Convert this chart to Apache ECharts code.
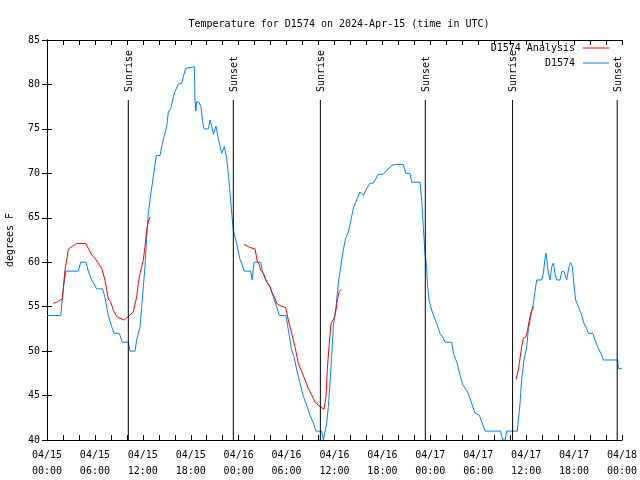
<!DOCTYPE html>
<html>
<head>
<meta charset="utf-8">
<script src="https://cdn.jsdelivr.net/npm/echarts@6/dist/echarts.min.js"></script>
<style>html,body{margin:0;padding:0;background:#fff}#c{width:640px;height:480px}</style>
</head>
<body>
<div id="c"></div>
<script>
// Hours since 2024-04-15 00:00 UTC
const xTickLabels = ['04/15\n00:00','04/15\n06:00','04/15\n12:00','04/15\n18:00','04/16\n00:00','04/16\n06:00','04/16\n12:00','04/16\n18:00','04/17\n00:00','04/17\n06:00','04/17\n12:00','04/17\n18:00','04/18\n00:00'];

const blueTimes = [0,1.72,2.04,2.34,3.92,4.22,4.88,5.17,5.6,6.22,6.97,7.26,7.68,8.1,8.39,9.05,9.43,10.18,10.39,11.02,11.23,11.65,11.86,12.06,12.27,12.48,12.69,12.98,13.31,13.61,13.69,14.15,14.36,14.65,14.99,15.19,15.49,15.82,16.03,16.44,16.87,17.07,17.37,17.49,18.45,18.53,18.64,18.74,19.03,19.28,19.49,19.66,20.2,20.41,20.62,20.83,21.16,21.45,21.87,22.2,22.5,22.7,22.92,23.13,23.33,23.75,24.17,24.38,24.67,25.51,25.7,25.92,26.76,26.96,27.38,27.92,28.34,28.76,29.09,29.93,30.22,30.64,30.93,31.27,31.68,32.1,32.52,32.93,33.35,33.68,34.4,34.6,35.02,35.23,35.44,35.65,35.85,36.19,36.48,36.78,37.1,37.4,37.73,38.03,38.36,38.78,39.19,39.61,40.03,40.45,40.86,41.49,42.11,43.16,43.66,44.62,44.92,45.45,45.67,46.71,46.92,47.12,47.33,47.54,47.63,47.83,48.17,48.38,48.8,49.21,49.63,49.84,50.67,50.88,51.3,51.72,52.05,52.55,52.84,53.18,53.6,54.13,54.43,54.85,56.81,57.06,57.35,57.56,58.9,59.02,59.23,59.44,59.73,60.07,60.27,60.57,60.9,61.1,61.32,61.94,62.15,62.36,62.48,62.65,62.78,62.99,63.2,63.4,63.61,63.82,64.24,64.45,64.74,65.07,65.36,65.57,65.78,65.99,66.2,66.53,66.95,67.24,67.58,67.78,68.33,68.62,69.04,69.46,69.66,71.46,71.54,72];
const blueTemps = [54,54,57,59,59,60,60,59,58,57,57,56,54,52.75,52,52,51,51,50,50,51.25,52.75,55,57.25,59.5,62.9,65.5,67.6,69.6,71.5,72,72,73,74.1,75.25,76.9,77.3,78.6,79.2,80.05,80.1,80.9,81.8,82,82,78.25,77,78.06,78,77.5,75.8,75,75,76,75.3,74.4,75.3,73.9,72.25,73,71.7,70,67.75,65.5,63.6,62.1,60.3,59.9,59,59,58,60,60,59,58,57.25,56.1,55,54,54,52.4,50.1,49.4,47.9,46.4,44.9,43.9,42.8,41.9,41,41,40,41.9,43.75,46.4,49.4,52.75,55,57.6,59.5,61.4,62.7,63.4,64.6,66.1,67,67.9,67.5,68.3,68.9,68.9,69.9,69.9,70.9,71,71,70,70,69,69,67,64,61,59.5,57.6,55.75,54.6,54.06,53.1,52,51.44,51,51,49.75,48.8,47.3,46.2,45.6,45,44.1,43,42.8,42.06,41,41,40,40,41,41,42.25,44.1,46.9,49,50.5,52.4,53.9,55.4,56.7,58,58,58.75,60.44,61,61,58.75,58,59.5,59.9,58.75,58,58,58.94,58.94,58,59.5,59.95,59.5,57.44,55.75,55,54.06,53.1,52.56,52,52,51.25,50.3,49.56,49,49,48.06,48];

const redTimes = [0.79,1.21,1.63,1.92,2.04,2.25,2.47,2.67,3.09,3.29,3.72,4.84,5.17,5.6,6.01,6.42,6.85,7.26,7.47,7.68,7.97,8.3,8.73,9.14,9.68,10.06,10.39,10.81,11.02,11.23,11.43,11.65,11.86,12.06,12.27,12.48,12.69,12.9,
  18.0,
  24.67,25.21,25.63,26.05,26.34,26.59,26.76,27.09,27.51,27.92,28.21,28.55,28.76,29.18,29.89,30.22,30.64,31.05,31.47,31.89,32.31,32.72,33.15,33.56,33.97,34.69,34.94,35.1,35.31,35.56,35.94,36.19,36.35,36.6,36.81,
  48.0,
  58.73,59.02,59.23,59.44,59.65,59.98,60.14,60.36,60.61,60.94];
const redTemps = [55.38,55.5,55.75,55.8,57.06,59.12,60.25,61.45,61.75,61.9,62.12,62.1,61.56,60.81,60.44,59.88,59.31,58,56.9,55.83,55.56,54.6,53.9,53.69,53.5,53.8,54.06,54.44,54.44,56.1,57.6,58.75,59.5,60.25,61.75,63.6,64.56,65.1,
  null,
  62,61.75,61.6,61.5,60.06,59.7,59.1,58.75,57.8,57.25,56.5,55.94,55.38,55.1,54.9,53.5,52,50.5,48.6,47.7,46.75,45.8,45.06,44.3,43.9,43.45,44.9,47.9,50.5,53.1,53.7,54.6,55.75,56.7,56.95,
  null,
  46.8,47.87,49.2,50.5,51.44,51.63,52.2,53.3,54.4,55.0];

const sunTimes = [10.18, 23.33, 34.23, 47.37, 58.3, 71.4];
const sunLabels = ['Sunrise','Sunset','Sunrise','Sunset','Sunrise','Sunset'];

const FONT = 'DejaVu Sans Mono';
const chart = echarts.init(document.getElementById('c'), null, {renderer: 'canvas'});

const axisCommon = {
  axisLine: {show: true, lineStyle: {color: '#000', width: 1}},
  splitLine: {show: false}
};

chart.setOption({
  animation: false,
  backgroundColor: '#fff',
  title: {
    text: 'Temperature for D1574 on 2024-Apr-15 (time in UTC)',
    left: 334, top: 14, textAlign: 'center',
    textStyle: {fontFamily: FONT, fontSize: 10, fontWeight: 'normal', color: '#000'}
  },
  grid: {left: 47, right: 18, top: 40, bottom: 40, containLabel: false, outerBoundsMode: 'none'},
  legend: [
    {data: ['D1574 Analysis'], right: 31, top: 43, padding: 0, align: 'right', itemWidth: 26, itemHeight: 1, icon: 'rect', itemGap: 8, selectedMode: false,
     textStyle: {fontFamily: FONT, fontSize: 10, color: '#000', padding: [0, 3, 0, 0]}},
    {data: ['D1574'], right: 31, top: 58, padding: 0, align: 'right', itemWidth: 26, itemHeight: 1, icon: 'rect', itemGap: 8, selectedMode: false,
     textStyle: {fontFamily: FONT, fontSize: 10, color: '#000', padding: [0, 3, 0, 0]}}
  ],
  xAxis: [
    Object.assign({
      type: 'value', min: 0, max: 72, interval: 6, position: 'bottom',
      axisTick: {show: true, inside: true, length: 5, lineStyle: {color: '#000'}},
      minorTick: {show: true, splitNumber: 3, length: 5, lineStyle: {color: '#000'}},
      minorSplitLine: {show: false},
      axisLabel: {
        fontFamily: FONT, fontSize: 10, color: '#000', margin: 7, lineHeight: 16,
        showMinLabel: true, showMaxLabel: true, hideOverlap: false,
        formatter: function (v) { return xTickLabels[Math.round(v / 6)]; }
      }
    }, axisCommon),
    Object.assign({
      type: 'value', min: 0, max: 72, interval: 6, position: 'top',
      axisTick: {show: true, inside: true, length: 5, lineStyle: {color: '#000'}},
      minorTick: {show: true, splitNumber: 3, length: 5, lineStyle: {color: '#000'}},
      minorSplitLine: {show: false},
      axisLabel: {show: false}
    }, axisCommon)
  ],
  yAxis: [
    Object.assign({
      type: 'value', min: 40, max: 85, interval: 5, position: 'left',
      name: 'degrees F', nameLocation: 'middle', nameRotate: 90, nameGap: 32,
      nameTextStyle: {fontFamily: FONT, fontSize: 10, color: '#000'},
      axisTick: {show: true, inside: true, length: 5, lineStyle: {color: '#000'}},
      axisLabel: {fontFamily: FONT, fontSize: 10, color: '#000', margin: 7}
    }, axisCommon),
    Object.assign({
      type: 'value', min: 40, max: 85, interval: 5, position: 'right',
      axisTick: {show: true, inside: true, length: 5, lineStyle: {color: '#000'}},
      axisLabel: {show: false}
    }, axisCommon)
  ],
  series: [
    {
      name: 'D1574 Analysis', type: 'line', symbol: 'none', connectNulls: false,
      color: '#ff0000', lineStyle: {color: '#ff0000', width: 1}, z: 3,
      data: redTimes.map((t, i) => [t, redTemps[i]])
    },
    {
      name: 'D1574', type: 'line', symbol: 'none',
      color: '#0080ff', lineStyle: {color: '#0080ff', width: 1}, z: 2,
      data: blueTimes.map((t, i) => [t, blueTemps[i]])
    },
    {
      type: 'custom', silent: true, z: 4,
      data: sunTimes.map(t => [t, 40]),
      renderItem: function (params, api) {
        const t = api.value(0);
        const p0 = api.coord([t, 40]);
        const p1 = api.coord([t, 78.25]);
        return {
          type: 'group',
          children: [
            {type: 'line', shape: {x1: p0[0], y1: p0[1], x2: p1[0], y2: p1[1]}, style: {stroke: '#000', lineWidth: 1}},
            {type: 'text', x: p1[0] + 1, y: p1[1] - 8, rotation: Math.PI / 2,
             style: {text: sunLabels[params.dataIndex], fill: '#000', font: '10px "' + FONT + '"', align: 'left', verticalAlign: 'middle'}}
          ]
        };
      }
    }
  ]
});
</script>
</body>
</html>
